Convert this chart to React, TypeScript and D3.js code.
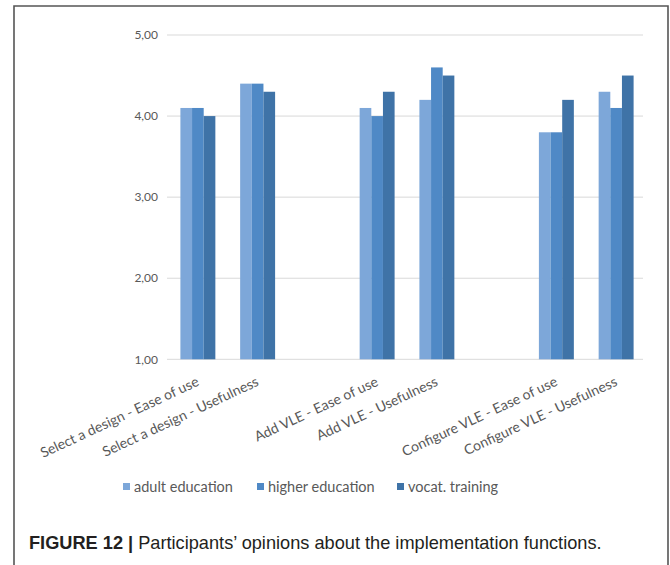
import React from "react";
import * as d3 from "d3";

const categories = [
  "Select a design - Ease of use",
  "Select a design - Usefulness",
  "Add VLE - Ease of use",
  "Add VLE - Usefulness",
  "Configure VLE - Ease of use",
  "Configure VLE - Usefulness",
];
// slots along the axis (empty slots separate the three functions)
const slots = ["c0", "c1", "gap1", "c2", "c3", "gap2", "c4", "c5"];
const seriesNames = ["adult education", "higher education", "vocat. training"];
const adultEducation = [4.1, 4.4, 4.1, 4.2, 3.8, 4.3];
const higherEducation = [4.1, 4.4, 4.0, 4.6, 3.8, 4.1];
const vocatTraining = [4.0, 4.3, 4.3, 4.5, 4.2, 4.5];
const yTicks = [1, 2, 3, 4, 5];
const caption = "Participants\u2019 opinions about the implementation functions.";
const captionLabel = "FIGURE 12 |";

const colors = ["#7DA7D9", "#4F89C6", "#3F73A7"];
const W = 670;
const H = 565;
const plot = { left: 168, right: 646, top: 35, bottom: 359.3 };
const font = "Lato, 'Open Sans', sans-serif";

export default function App() {
  const seriesValues = [adultEducation, higherEducation, vocatTraining];
  const slotOf = (i: number) => slots.filter((s) => !s.startsWith("gap"))[i];
  const x0 = d3
    .scaleBand<string>()
    .domain(slots)
    .range([plot.left, plot.right])
    .paddingInner(0.415)
    .paddingOuter(0.2075);
  const x1 = d3
    .scaleBand<string>()
    .domain(seriesNames)
    .range([0, x0.bandwidth()]);
  const y = d3.scaleLinear().domain([1, 5]).range([plot.bottom, plot.top]);
  const fmt = d3.formatLocale({ decimal: ",", thousands: ".", grouping: [3], currency: ["", ""] }).format(".2f");

  const legendX = [123, 257, 397];
  const legendY = 487;

  return (
    <svg
      width={W}
      height={H}
      style={{ position: "absolute", left: 0, top: 0, background: "#fff" }}
    >
      <rect x={0} y={0} width={W} height={H} fill="#fff" />
      {/* frame */}
      <path d={`M14,${H} L14,6 L668,6 L668,${H}`} fill="none" stroke="#555" strokeWidth={1.6} />

      {/* gridlines */}
      {yTicks.map((t) => (
        <g key={t}>
          <line
            x1={plot.left - 1}
            x2={plot.right - 3}
            y1={y(t)}
            y2={y(t)}
            stroke="#D9D9D9"
            strokeWidth={1}
          />
          <text
            x={158}
            y={y(t)}
            dy="0.35em"
            textAnchor="end"
            fontFamily={font}
            fontSize={12}
            fill="#595959"
          >
            {fmt(t)}
          </text>
        </g>
      ))}

      {/* bars */}
      {categories.map((c, i) => {
        const gx = x0(slotOf(i))!;
        return (
          <g key={c}>
            {seriesNames.map((s, k) => {
              const v = seriesValues[k][i];
              return (
                <rect
                  key={s}
                  x={gx + x1(s)!}
                  y={y(v)}
                  width={x1.bandwidth()}
                  height={y(1) - y(v)}
                  fill={colors[k]}
                />
              );
            })}
          </g>
        );
      })}

      {/* category labels */}
      {categories.map((c, i) => {
        const cx = x0(slotOf(i))! + x0.bandwidth() / 2;
        return (
          <text
            key={c}
            transform={`translate(${cx + 2},${385}) rotate(-25)`}
            textAnchor="end"
            fontFamily={font}
            fontSize={14}
            fill="#595959"
          >
            {c}
          </text>
        );
      })}

      {/* legend */}
      {seriesNames.map((s, k) => (
        <g key={s}>
          <rect x={legendX[k]} y={legendY - 4} width={7} height={7} fill={colors[k]} />
          <text
            x={legendX[k] + 11}
            y={legendY}
            dy="0.35em"
            fontFamily={font}
            fontSize={14.5}
            fill="#595959"
          >
            {s}
          </text>
        </g>
      ))}

      {/* caption */}
      <text x={29} y={549} fontFamily="'Liberation Sans', Arial, sans-serif" fontSize={18.2} fill="#231F20">
        <tspan fontWeight="bold">{captionLabel}</tspan>
        <tspan> {caption}</tspan>
      </text>
    </svg>
  );
}
